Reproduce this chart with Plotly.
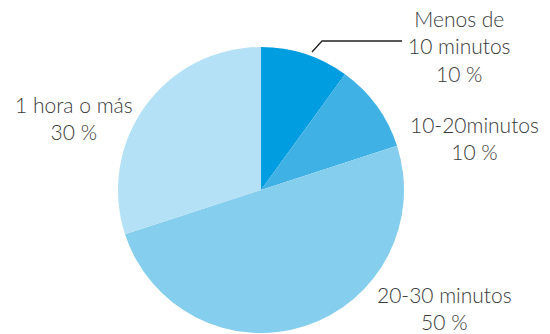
import plotly.graph_objects as go

labels = ["Menos de 10 minutos", "10-20minutos", "20-30 minutos", "1 hora o más"]
values = [10, 10, 50, 30]
colors = ["#009ee0", "#3fb1e4", "#85ceee", "#b4e1f6"]
label_texts = ["Menos de<br>10 minutos<br>10 %", "10-20minutos<br>10 %",
               "20-30 minutos<br>50 %", "1 hora o más<br>30 %"]
# label anchor points in pixels (x, y of block centre)
label_pos = [(460, 46), (474, 138), (444, 308), (74, 118)]

W, H = 550, 334

fig = go.Figure()
fig.add_trace(go.Pie(
    labels=labels, values=values,
    marker=dict(colors=colors, line=dict(width=0)),
    sort=False, direction="clockwise", rotation=0,
    textinfo="none", hoverinfo="label+percent",
    showlegend=False,
    domain=dict(x=[118 / W, 404 / W], y=[1 / H, 287 / H]),
))

font = dict(family="Lato", size=21, color="#3a3a3a", weight=300)
annotations = []
for txt, (px_, py_) in zip(label_texts, label_pos):
    annotations.append(dict(
        text=txt, x=px_ / W, y=1 - py_ / H, xref="paper", yref="paper",
        xanchor="center", yanchor="middle", showarrow=False, align="center",
        font=font,
    ))

# leader line for the first slice
fig.add_shape(type="path", xref="paper", yref="paper",
              path=f"M {312/W},{1-52/H} L {322/W},{1-41/H} L {402/W},{1-41/H}",
              line=dict(color="#222222", width=1.3))

fig.update_layout(
    width=W, height=H,
    margin=dict(l=0, r=0, t=0, b=0),
    paper_bgcolor="white", plot_bgcolor="white",
    annotations=annotations,
)

fig.write_html("out.html", config={"displayModeBar": False},
               post_script="document.body.style.margin='0';")
